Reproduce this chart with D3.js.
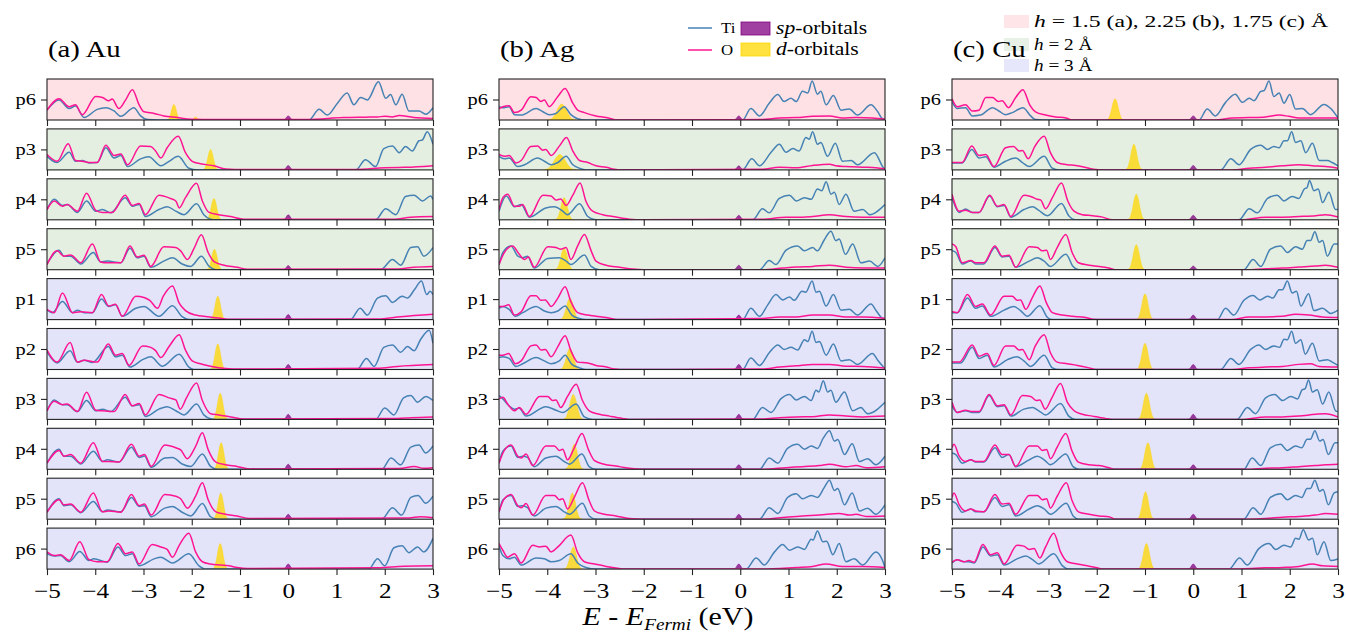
<!DOCTYPE html>
<html><head><meta charset="utf-8">
<script src="https://cdn.jsdelivr.net/npm/d3@7"></script>
<style>
body{margin:0;background:#fff}
svg{display:block}
text{font-family:"Liberation Serif","Times New Roman",serif;fill:#000}
</style>
</head><body>
<svg id="chart" width="1346" height="636"></svg>
<script>
// ---------------- data ----------------
const xTicks = [-5,-4,-3,-2,-1,0,1,2,3];
const rowLabels = ["p6","p3","p4","p5","p1","p2","p3","p4","p5","p6"];
const rowGroups = ["h1","h2","h2","h2","h3","h3","h3","h3","h3","h3"];
const groupLabels = ["h = 1.5 (a), 2.25 (b), 1.75 (c) Å","h = 2 Å","h = 3 Å"];
const columnTitles = ["(a) Au","(b) Ag","(c) Cu"];

// peak profile (relative position -> relative height), read from the d/sp peaks
const peakU = [-1,-0.7,-0.45,-0.2,0,0.2,0.45,0.7,1];
const peakShape = [0,0.08,0.38,0.83,1,0.83,0.38,0.08,0];

// d-orbital peaks per panel: [centre eV, height, half width]
const auD = [[[-2.37,3.8,0.15],[-1.92,0.75,0.1]],[[-1.61,5.0,0.17]],[[-1.54,5.2,0.17]],[[-1.53,5.0,0.17]],[[-1.46,5.7,0.17]],[[-1.46,6.25,0.17]],[[-1.41,6.4,0.17]],[[-1.39,6.5,0.17]],[[-1.40,6.4,0.17]],[[-1.41,6.25,0.17]]];
const agD = [[[-3.70,3.9,0.3]],[[-3.74,3.75,0.35]],[[-3.65,5.4,0.2]],[[-3.65,5.25,0.2]],[[-3.53,5.25,0.22]],[[-3.53,5.2,0.22]],[[-3.46,6.1,0.22]],[[-3.44,6.1,0.2]],[[-3.48,6.4,0.2]],[[-3.46,5.4,0.2]]];
const cuD = [[[-1.62,5.2,0.19]],[[-1.23,6.25,0.19]],[[-1.18,6.25,0.19]],[[-1.18,6.1,0.19]],[[-1.00,6.3,0.19]],[[-1.00,6.4,0.19]],[[-0.97,6.4,0.19]],[[-0.94,6.5,0.19]],[[-0.99,6.7,0.19]],[[-0.97,6.25,0.19]]];
// sp-orbital peaks: centre and heights
const spCentre = [0, -0.03, 0];
const spHalfWidth = 0.12;
const auSp = [1.0,1.1,1.25,1.0,1.25,1.25,1.25,1.25,1.2,1.25];
const agSp = [1.0,1.0,1.1,1.1,1.1,1.25,1.25,1.1,1.2,1.25];
const cuSp = [1.0,1.1,1.1,0.9,1.1,1.25,1.25,1.1,1.2,1.25];

// Ti and O projected DOS, [E, value] key points per panel
const auTi = [
[[-5,2.4],[-4.75,4.9],[-4.54,2.8],[-4.41,3.4],[-4.23,0.6],[-3.96,2.6],[-3.78,3.0],[-3.61,2.2],[-3.47,0.9],[-3.2,3.0],[-3.06,1.0],[-2.92,0.1],[-2.7,0],[0.43,0],[0.64,2.6],[0.81,1.2],[1.02,4.1],[1.22,6.6],[1.36,3.7],[1.5,5.5],[1.64,4.9],[1.87,9.3],[2.02,5.3],[2.12,6.2],[2.23,3.7],[2.36,6.3],[2.5,2.2],[2.71,2.2],[2.85,1.4],[3,3.0]],
[[-5,3.3],[-4.79,1.8],[-4.54,4.3],[-4.41,2.1],[-4.27,2.3],[-4.13,1.7],[-3.96,1.8],[-3.78,5.4],[-3.61,2.9],[-3.47,3.5],[-3.33,0.8],[-3.06,2.7],[-2.89,3.2],[-2.64,1.0],[-2.47,2.1],[-2.28,3.3],[-2.06,0.4],[-1.88,0],[1.4,0],[1.6,2.5],[1.81,0.8],[1.98,5.2],[2.16,5.8],[2.3,4.2],[2.43,5.7],[2.57,4.6],[2.71,7.1],[2.78,7.3],[2.88,9.3],[3,6.25]],
[[-5,2.5],[-4.85,5.0],[-4.68,3.5],[-4.58,3.75],[-4.37,1.8],[-4.18,4.6],[-3.99,2.1],[-3.85,2.5],[-3.68,1.7],[-3.38,5.4],[-3.23,3.3],[-3.09,3.75],[-2.96,0.8],[-2.68,2.5],[-2.51,3.2],[-2.33,2.1],[-2.16,1.25],[-1.9,3.9],[-1.75,1.25],[-1.61,0.15],[-1.5,0],[1.81,0],[2.02,2.7],[2.23,1.25],[2.43,5.7],[2.61,6.0],[2.78,4.6],[2.95,5.8],[3,5.0]],
[[-5,1.4],[-4.75,4.75],[-4.65,3.3],[-4.51,3.3],[-4.3,1.4],[-4.04,4.2],[-3.89,1.9],[-3.75,2.1],[-3.47,1.7],[-3.28,5.25],[-3.13,2.9],[-2.99,3.3],[-2.85,0.6],[-2.58,2.1],[-2.4,2.9],[-2.2,1.4],[-2.02,0.8],[-1.8,3.3],[-1.64,0.8],[-1.5,0],[1.92,0],[2.16,2.5],[2.33,1.1],[2.54,5.4],[2.68,5.6],[2.81,3.3],[3,5.4]],
[[-5,2.3],[-4.89,1.7],[-4.68,4.4],[-4.47,1.7],[-4.37,2.3],[-4.23,1.7],[-4.06,1.7],[-3.87,5.0],[-3.72,3.2],[-3.58,3.6],[-3.44,0.8],[-3.16,2.75],[-2.99,3.2],[-2.68,0.8],[-2.4,3.4],[-2.2,0.7],[-2.09,0.1],[-2.0,0],[1.29,0],[1.49,2.75],[1.64,1.1],[1.85,5.25],[2.02,5.8],[2.16,4.2],[2.36,5.7],[2.47,5.25],[2.61,7.2],[2.76,9.4],[2.87,6.1],[2.94,6.9],[3,6.1]],
[[-5,4.3],[-4.79,1.6],[-4.52,4.6],[-4.37,1.8],[-4.23,2.25],[-4.06,1.7],[-3.73,5.6],[-3.58,3.1],[-3.44,3.5],[-3.28,0.6],[-3.02,2.4],[-2.85,3.1],[-2.61,0.8],[-2.26,3.7],[-2.06,0.6],[-1.95,0],[1.43,0],[1.62,2.7],[1.78,0.75],[1.98,5.4],[2.16,6.0],[2.33,4.2],[2.47,5.6],[2.61,4.6],[2.74,7.25],[2.92,9.6],[3,6.4]],
[[-5,2.1],[-4.85,4.75],[-4.68,3.6],[-4.58,3.6],[-4.37,1.9],[-4.18,4.6],[-3.99,2.1],[-3.85,2.5],[-3.68,1.9],[-3.38,5.4],[-3.23,3.3],[-3.09,3.6],[-2.96,0.7],[-2.68,2.5],[-2.51,3.1],[-2.33,2.1],[-2.16,1.1],[-1.9,3.75],[-1.75,1.1],[-1.61,0.15],[-1.5,0],[1.81,0],[2.0,2.75],[2.19,1.1],[2.39,5.25],[2.54,5.8],[2.68,4.2],[2.85,5.6],[3,4.6]],
[[-5,1.5],[-4.75,4.9],[-4.65,3.2],[-4.51,3.2],[-4.3,1.3],[-4.04,4.4],[-3.85,1.9],[-3.75,2.3],[-3.51,1.75],[-3.25,5.4],[-3.09,2.9],[-2.98,3.25],[-2.84,0.5],[-2.56,2.75],[-2.4,2.9],[-2.2,1.3],[-2.02,0.7],[-1.78,3.75],[-1.61,0.7],[-1.47,0],[1.94,0],[2.13,2.75],[2.33,1.1],[2.54,5.4],[2.71,5.9],[2.85,4.0],[3,5.7]],
[[-5,1.7],[-4.75,5.0],[-4.65,3.3],[-4.51,3.5],[-4.3,1.6],[-4.04,4.3],[-3.85,1.8],[-3.75,2.25],[-3.47,1.8],[-3.25,5.3],[-3.09,3.1],[-2.98,3.3],[-2.84,0.6],[-2.56,2.7],[-2.4,3.1],[-2.2,1.7],[-2.02,0.8],[-1.78,3.8],[-1.61,0.6],[-1.47,0],[1.94,0],[2.16,2.8],[2.35,1.0],[2.54,5.3],[2.69,5.8],[2.85,3.9],[3,5.6]],
[[-5,3.75],[-4.85,3.2],[-4.72,3.3],[-4.54,1.8],[-4.32,4.3],[-4.13,2.1],[-4.03,2.5],[-3.75,1.7],[-3.53,5.4],[-3.37,3.3],[-3.23,3.75],[-3.09,0.8],[-2.78,2.5],[-2.64,2.9],[-2.4,1.5],[-2.06,3.75],[-1.85,0.8],[-1.71,0],[1.67,0],[1.85,2.5],[2.0,0.8],[2.19,5.2],[2.36,5.7],[2.5,4.0],[2.68,5.4],[2.81,4.2],[3,7.5]]
];
const auO = [
[[-5,2.4],[-4.75,5.2],[-4.54,3.25],[-4.41,3.7],[-4.27,1.3],[-3.99,5.75],[-3.85,5.5],[-3.72,4.7],[-3.65,5.1],[-3.51,2.8],[-3.37,4.9],[-3.23,7.4],[-3.09,3.7],[-2.99,2.0],[-2.78,1.6],[-2.58,1.0],[-2.3,0.6],[-2.02,0.2],[-1.5,0.1],[0.4,0.1],[1.14,0.6],[1.6,0.7],[1.85,0.75],[2.0,0.9],[2.15,0.75],[2.3,1.1],[2.6,0.6],[3,0.35]],
[[-5,3.75],[-4.79,2.1],[-4.56,6.4],[-4.41,2.3],[-4.27,2.1],[-4.13,1.8],[-3.96,1.8],[-3.78,6.0],[-3.61,3.5],[-3.47,3.9],[-3.33,1.25],[-3.06,5.8],[-2.85,5.7],[-2.75,4.6],[-2.64,2.9],[-2.51,5.4],[-2.28,8.2],[-2.13,4.2],[-1.99,2.1],[-1.82,1.5],[-1.54,1.0],[-1.3,0.25],[-0.92,0.1],[1.4,0.1],[2.0,0.5],[2.3,0.6],[2.54,0.65],[2.8,0.8],[3,1.0]],
[[-5,2.5],[-4.85,4.6],[-4.68,3.3],[-4.58,3.75],[-4.37,2.1],[-4.18,6.5],[-3.99,2.3],[-3.85,1.8],[-3.65,1.8],[-3.38,6.0],[-3.23,3.5],[-3.09,4.0],[-2.96,1.25],[-2.68,6.0],[-2.44,5.2],[-2.33,4.6],[-2.26,2.9],[-2.13,5.4],[-1.9,8.9],[-1.78,4.6],[-1.64,1.8],[-1.44,1.25],[-1.19,0.8],[-0.92,0.15],[2.2,0.15],[2.54,0.65],[3,0.8]],
[[-5,1.25],[-4.79,4.6],[-4.65,3.3],[-4.51,3.6],[-4.3,1.7],[-4.06,6.25],[-3.89,1.9],[-3.75,1.7],[-3.47,1.7],[-3.28,5.8],[-3.13,3.1],[-2.99,3.5],[-2.85,0.8],[-2.58,5.6],[-2.33,5.4],[-2.23,4.6],[-2.09,2.5],[-1.95,5.25],[-1.8,8.5],[-1.66,4.2],[-1.53,1.9],[-1.33,1.1],[-1.06,0.6],[-0.85,0.1],[2.25,0.15],[2.61,0.6],[3,0.8]],
[[-5,2.5],[-4.85,1.7],[-4.68,6.5],[-4.47,1.7],[-4.3,1.9],[-4.06,1.7],[-3.87,6.1],[-3.72,3.3],[-3.58,3.75],[-3.44,0.8],[-3.16,5.7],[-2.99,5.4],[-2.87,4.7],[-2.71,2.75],[-2.59,5.7],[-2.4,8.2],[-2.26,4.0],[-2.13,2.2],[-1.92,1.1],[-1.68,0.7],[-1.4,0.3],[-1.19,0.1],[1.85,0.15],[2.33,0.7],[3,1.3]],
[[-5,4.75],[-4.79,1.8],[-4.52,6.6],[-4.37,1.8],[-4.23,2.25],[-3.96,1.8],[-3.73,6.2],[-3.58,3.5],[-3.44,3.9],[-3.3,1.0],[-3.02,5.75],[-2.85,5.4],[-2.75,4.6],[-2.64,2.9],[-2.47,5.6],[-2.26,8.5],[-2.13,4.75],[-1.99,2.1],[-1.82,1.4],[-1.61,0.8],[-1.3,0.25],[-1.0,0.1],[1.85,0.3],[2.26,0.75],[3,1.2]],
[[-5,2.1],[-4.85,4.4],[-4.68,3.6],[-4.58,3.75],[-4.37,1.9],[-4.18,6.6],[-3.99,2.25],[-3.85,2.1],[-3.61,1.9],[-3.38,6.1],[-3.23,3.3],[-3.09,3.9],[-2.96,1.1],[-2.68,6.1],[-2.47,5.25],[-2.33,4.75],[-2.24,2.5],[-2.11,5.25],[-1.9,8.9],[-1.78,4.6],[-1.61,1.4],[-1.44,1.1],[-1.19,0.6],[-0.92,0.1],[2.26,0.2],[2.54,0.4],[3,0.6]],
[[-5,1.5],[-4.75,4.6],[-4.65,3.2],[-4.51,3.6],[-4.3,1.5],[-4.04,6.5],[-3.85,1.9],[-3.72,1.9],[-3.51,1.75],[-3.25,6.1],[-3.09,3.2],[-2.98,3.6],[-2.84,0.7],[-2.56,5.9],[-2.33,5.25],[-2.23,4.75],[-2.09,2.6],[-1.92,5.6],[-1.78,8.9],[-1.66,4.8],[-1.5,1.75],[-1.3,1.1],[-1.06,0.7],[-0.81,0.1],[2.3,0.2],[2.61,0.7],[2.81,0.25],[3,0.4]],
[[-5,1.7],[-4.75,4.75],[-4.65,3.5],[-4.51,3.7],[-4.3,1.7],[-4.04,6.4],[-3.85,1.8],[-3.72,2.0],[-3.47,1.7],[-3.25,6.0],[-3.09,3.3],[-2.98,3.7],[-2.84,1.0],[-2.56,6.0],[-2.33,5.6],[-2.23,5.0],[-2.09,2.7],[-1.92,5.6],[-1.78,8.9],[-1.66,4.75],[-1.5,1.8],[-1.3,1.2],[-1.06,0.8],[-0.81,0.15],[2.5,0.3],[2.74,0.6],[3,0.35]],
[[-5,4.2],[-4.85,3.3],[-4.72,3.5],[-4.54,2.1],[-4.32,6.7],[-4.13,2.3],[-3.96,1.8],[-3.75,1.8],[-3.53,6.25],[-3.37,3.75],[-3.23,4.2],[-3.09,1.25],[-2.82,6.0],[-2.64,5.4],[-2.51,4.8],[-2.4,2.9],[-2.26,5.8],[-2.06,8.75],[-1.92,4.2],[-1.78,1.8],[-1.61,1.25],[-1.4,1.0],[-1.23,0.8],[-1.06,0.4],[-0.85,0.15],[1.85,0.3],[2.4,0.7],[3,0.8]]
];
const agTi = [
[[-5,3.25],[-4.92,3.0],[-4.79,3.25],[-4.68,1.3],[-4.54,1.2],[-4.23,2.8],[-4.09,2.0],[-3.96,1.3],[-3.82,1.6],[-3.65,3.25],[-3.51,1.3],[-3.37,0.3],[-3.2,0],[0.05,0],[0.22,2.8],[0.4,1.0],[0.6,4.1],[0.78,6.2],[0.91,4.5],[1.05,5.3],[1.16,4.5],[1.29,7.0],[1.4,6.6],[1.49,9.5],[1.6,6.3],[1.67,7.0],[1.78,3.7],[1.93,6.0],[2.09,2.4],[2.26,2.7],[2.43,1.2],[2.71,3.7],[2.85,2.0],[2.95,0.3],[3,0.2]],
[[-5,3.3],[-4.89,2.7],[-4.79,2.9],[-4.61,0.8],[-4.47,1.25],[-4.2,2.9],[-4.06,2.1],[-3.92,1.25],[-3.78,1.8],[-3.61,3.3],[-3.47,1.25],[-3.33,0.4],[-3.2,0],[0.05,0],[0.24,2.7],[0.4,1.0],[0.64,4.3],[0.81,6.25],[0.95,4.3],[1.09,5.2],[1.22,4.6],[1.36,7.9],[1.43,7.5],[1.5,9.3],[1.6,6.25],[1.67,6.7],[1.81,3.3],[1.97,6.5],[2.12,2.1],[2.3,2.3],[2.43,1.25],[2.78,4.2],[2.95,0.8],[3,0]],
[[-5,2.1],[-4.85,5.8],[-4.68,3.2],[-4.54,3.75],[-4.37,0.65],[-4.03,2.9],[-3.85,3.2],[-3.68,2.1],[-3.58,1.25],[-3.33,3.9],[-3.16,0.8],[-2.99,0],[0.26,0],[0.46,2.7],[0.6,1.7],[0.81,5.2],[1.02,6.0],[1.16,4.6],[1.33,5.4],[1.47,5.0],[1.6,7.5],[1.69,7.1],[1.78,9.3],[1.88,6.25],[1.95,6.7],[2.05,3.75],[2.19,6.25],[2.36,2.1],[2.54,2.5],[2.68,1.25],[3,3.75]],
[[-5,1.1],[-4.92,4.2],[-4.75,5.8],[-4.61,3.3],[-4.51,2.9],[-4.41,3.3],[-4.27,0.4],[-3.99,2.75],[-3.75,2.9],[-3.61,2.1],[-3.51,1.25],[-3.23,3.6],[-3.09,0.8],[-2.92,0],[0.4,0],[0.6,2.25],[0.74,1.25],[0.95,4.75],[1.19,5.8],[1.33,4.6],[1.5,5.4],[1.6,4.6],[1.74,7.25],[1.88,9.4],[1.98,7.1],[2.05,7.5],[2.18,3.75],[2.33,6.25],[2.5,1.7],[2.68,2.1],[2.85,0.8],[3,2.9]],
[[-5,2.75],[-4.92,3.2],[-4.79,2.5],[-4.66,0.8],[-4.51,1.7],[-4.23,3.2],[-4.06,2.1],[-3.92,1.7],[-3.78,2.1],[-3.63,3.3],[-3.49,1.1],[-3.33,0.25],[-3.2,0],[0.05,0],[0.22,2.75],[0.4,0.8],[0.57,3.6],[0.74,6.1],[0.88,4.8],[1.02,5.5],[1.12,4.7],[1.28,6.9],[1.36,6.7],[1.49,9.4],[1.57,6.7],[1.64,6.9],[1.78,3.3],[1.93,6.1],[2.09,2.3],[2.26,2.5],[2.43,1.1],[2.71,3.8],[2.81,2.3],[2.95,0.25],[3,0.1]],
[[-5,2.9],[-4.92,3.1],[-4.79,2.7],[-4.65,0.75],[-4.51,1.4],[-4.23,2.9],[-4.06,2.1],[-3.92,1.4],[-3.75,2.1],[-3.63,3.5],[-3.49,1.25],[-3.33,0.4],[-3.2,0],[0.05,0],[0.22,2.8],[0.4,1.0],[0.6,4.1],[0.78,6.0],[0.91,4.9],[1.05,5.4],[1.19,4.75],[1.33,7.25],[1.4,6.8],[1.49,9.3],[1.57,6.6],[1.64,6.8],[1.78,3.5],[1.93,6.25],[2.09,2.1],[2.26,2.4],[2.43,1.25],[2.74,3.9],[2.85,2.25],[3,0.15]],
[[-5,5.8],[-4.92,5.0],[-4.79,3.3],[-4.68,2.5],[-4.58,2.75],[-4.44,0.8],[-4.03,3.1],[-3.82,2.25],[-3.68,1.7],[-3.4,3.75],[-3.23,0.6],[-3.06,0],[0.26,0],[0.46,2.9],[0.64,1.7],[0.84,5.0],[1.02,6.1],[1.16,4.75],[1.33,5.6],[1.47,4.6],[1.57,7.1],[1.63,6.7],[1.72,9.4],[1.81,6.7],[1.88,7.1],[1.98,4.2],[2.16,6.7],[2.33,2.1],[2.5,2.9],[2.64,1.4],[3,4.2]],
[[-5,1.5],[-4.92,4.4],[-4.75,5.7],[-4.61,2.9],[-4.51,3.2],[-4.41,2.9],[-4.27,0.65],[-4.03,2.75],[-3.82,3.2],[-3.65,1.9],[-3.54,1.25],[-3.28,3.75],[-3.13,0.65],[-2.99,0],[0.4,0],[0.6,2.75],[0.78,1.5],[0.98,5.1],[1.19,6.1],[1.33,4.9],[1.47,5.7],[1.6,5.1],[1.72,7.6],[1.85,9.4],[1.95,6.9],[2.02,7.25],[2.16,3.6],[2.32,6.25],[2.47,1.9],[2.64,2.6],[2.81,1.1],[3,3.2]],
[[-5,1.7],[-4.92,4.7],[-4.75,5.8],[-4.61,3.1],[-4.51,3.3],[-4.41,2.8],[-4.27,0.8],[-4.03,2.7],[-3.82,3.1],[-3.65,1.8],[-3.54,1.2],[-3.27,3.9],[-3.13,0.8],[-2.99,0],[0.4,0],[0.6,2.8],[0.78,1.4],[0.98,5.3],[1.16,6.2],[1.29,5.0],[1.47,5.8],[1.6,5.3],[1.74,7.7],[1.85,9.5],[1.95,7.0],[2.02,7.5],[2.16,3.5],[2.32,6.4],[2.47,2.0],[2.64,2.7],[2.81,1.2],[3,3.5]],
[[-5,5.7],[-4.92,3.3],[-4.79,2.5],[-4.68,2.9],[-4.54,1.0],[-4.23,2.7],[-4.06,2.5],[-3.92,1.8],[-3.75,2.1],[-3.51,3.75],[-3.37,1.5],[-3.2,0.4],[-2.99,0],[0.12,0],[0.33,2.7],[0.5,1.0],[0.71,4.2],[0.88,6.0],[1.02,4.6],[1.19,5.4],[1.33,4.8],[1.47,7.3],[1.51,7.1],[1.6,9.3],[1.71,6.7],[1.79,6.8],[1.92,3.5],[2.05,6.25],[2.19,1.8],[2.36,2.5],[2.54,1.0],[2.81,4.2],[2.95,2.1],[3,0.4]]
];
const agO = [
[[-5,2.8],[-4.92,3.25],[-4.79,3.5],[-4.68,1.8],[-4.54,2.4],[-4.34,5.7],[-4.23,5.5],[-4.13,4.5],[-4.06,4.9],[-3.96,3.25],[-3.78,5.75],[-3.63,7.7],[-3.47,4.1],[-3.37,2.4],[-3.23,1.8],[-2.99,1.0],[-2.78,0.6],[-2.64,0.2],[-2.58,0],[0.46,0.1],[0.81,0.5],[1.16,0.6],[1.5,0.9],[1.85,1.0],[2.12,0.5],[2.4,0.6],[2.74,0.5],[3,0.2]],
[[-5,3.75],[-4.89,3.3],[-4.79,3.5],[-4.65,1.7],[-4.54,2.3],[-4.34,5.7],[-4.2,5.8],[-4.09,4.8],[-4.03,5.0],[-3.92,3.5],[-3.75,5.8],[-3.6,7.9],[-3.47,4.6],[-3.33,2.3],[-3.16,1.8],[-2.99,1.0],[-2.78,0.65],[-2.61,0.15],[-2.5,0],[0.46,0.15],[0.81,0.65],[1.16,0.55],[1.5,1.1],[1.85,1.4],[1.98,1.0],[2.19,0.8],[2.54,0.65],[2.81,0.55],[3,0.25]],
[[-5,2.5],[-4.92,5.4],[-4.82,6.25],[-4.68,3.3],[-4.58,3.3],[-4.51,3.75],[-4.37,0.8],[-4.09,6.0],[-3.92,5.8],[-3.82,4.8],[-3.72,5.1],[-3.61,3.5],[-3.47,6.0],[-3.32,9.0],[-3.2,4.6],[-3.06,2.1],[-2.85,1.25],[-2.64,0.8],[-2.3,0.15],[-2.0,0],[0.46,0.15],[0.95,0.65],[1.29,0.65],[1.5,0.8],[1.85,1.25],[2.19,0.8],[2.54,0.65],[3,0.65]],
[[-5,1.25],[-4.89,4.2],[-4.72,5.8],[-4.58,3.75],[-4.47,2.5],[-4.39,3.1],[-4.27,0.6],[-3.99,5.6],[-3.82,5.4],[-3.72,5.0],[-3.61,5.4],[-3.51,2.5],[-3.37,5.8],[-3.23,8.6],[-3.09,4.6],[-2.99,2.1],[-2.78,1.1],[-2.58,0.7],[-2.23,0.15],[-2.0,0],[0.46,0],[0.88,0.4],[1.16,0.65],[1.5,0.8],[1.85,1.1],[2.19,0.6],[2.54,0.4],[3,0.4]],
[[-5,3.2],[-4.92,3.2],[-4.8,3.6],[-4.68,1.1],[-4.54,1.9],[-4.34,5.8],[-4.23,5.8],[-4.13,4.7],[-4.04,4.8],[-3.92,3.2],[-3.78,5.25],[-3.63,8.0],[-3.51,4.4],[-3.37,1.7],[-3.16,1.1],[-2.99,0.8],[-2.78,0.5],[-2.61,0.1],[-2.5,0],[0.46,0.25],[0.81,0.65],[1.16,0.65],[1.5,1.1],[1.85,1.1],[2.19,0.65],[2.54,0.65],[3,0.3]],
[[-5,3.5],[-4.92,3.5],[-4.8,3.9],[-4.66,1.4],[-4.54,2.1],[-4.34,5.75],[-4.23,6.0],[-4.13,4.75],[-4.04,4.9],[-3.92,3.1],[-3.78,5.6],[-3.63,8.25],[-3.51,4.6],[-3.37,1.8],[-3.16,1.6],[-2.99,1.0],[-2.78,0.6],[-2.61,0.15],[-2.5,0],[0.46,0.1],[0.81,0.6],[1.16,0.9],[1.5,1.25],[1.85,1.25],[2.19,0.8],[2.54,0.75],[3,0.35]],
[[-5,5.0],[-4.92,5.4],[-4.82,3.75],[-4.68,2.1],[-4.58,2.9],[-4.44,1.25],[-4.16,5.6],[-3.99,5.6],[-3.89,4.6],[-3.82,4.75],[-3.72,2.9],[-3.58,5.6],[-3.4,8.6],[-3.27,4.6],[-3.13,2.1],[-2.92,1.25],[-2.71,0.8],[-2.44,0.25],[-2.3,0],[0.46,0.1],[0.81,0.4],[1.16,0.6],[1.5,0.65],[1.85,1.1],[2.19,0.8],[2.54,0.6],[3,0.8]],
[[-5,1.5],[-4.89,4.6],[-4.75,5.9],[-4.61,3.2],[-4.54,2.75],[-4.44,3.75],[-4.3,0.9],[-4.03,5.7],[-3.85,5.7],[-3.75,4.6],[-3.68,4.9],[-3.58,2.3],[-3.44,5.25],[-3.28,8.75],[-3.14,4.6],[-3.02,2.1],[-2.82,1.25],[-2.58,0.8],[-2.3,0.25],[-2.0,0],[0.46,0],[0.95,0.4],[1.29,0.65],[1.64,0.9],[1.85,1.25],[2.19,0.65],[2.4,0.9],[2.61,0.4],[3,0.65]],
[[-5,1.8],[-4.89,5.0],[-4.75,6.0],[-4.61,3.3],[-4.54,2.8],[-4.44,3.8],[-4.3,1.0],[-4.03,5.8],[-3.85,5.8],[-3.75,4.75],[-3.68,5.0],[-3.58,2.5],[-3.44,5.3],[-3.27,8.9],[-3.13,4.5],[-3.02,2.0],[-2.82,1.2],[-2.58,0.8],[-2.3,0.15],[-2.0,0],[0.46,0],[0.95,0.5],[1.29,0.8],[1.64,1.0],[2.05,1.4],[2.26,1.0],[2.4,1.2],[2.61,0.65],[3,0.8]],
[[-5,6.25],[-4.92,4.6],[-4.82,2.9],[-4.68,3.75],[-4.54,1.5],[-4.3,5.8],[-4.16,5.4],[-4.03,5.6],[-3.92,4.2],[-3.78,5.4],[-3.51,8.3],[-3.37,4.0],[-3.23,1.8],[-3.02,1.25],[-2.78,0.65],[-2.51,0.15],[-2.4,0],[0.46,0],[1.16,0.4],[1.5,0.65],[1.78,1.25],[2.12,0.65],[2.54,0.65],[3,0.4]]
];
const cuTi = [
[[-5,4.5],[-4.89,2.8],[-4.72,3.0],[-4.58,1.0],[-4.41,1.2],[-4.16,3.0],[-4.03,2.2],[-3.89,1.3],[-3.75,1.8],[-3.53,3.0],[-3.37,1.0],[-3.27,0.1],[-3.1,0],[0.12,0],[0.29,2.7],[0.46,1.0],[0.67,4.3],[0.87,6.3],[1.02,4.3],[1.16,5.3],[1.26,4.7],[1.4,7.0],[1.47,7.2],[1.57,9.5],[1.67,5.75],[1.78,6.6],[1.88,4.1],[2.0,6.2],[2.12,2.7],[2.26,2.8],[2.43,1.3],[2.71,3.8],[2.85,2.8],[3,0.5]],
[[-5,1.7],[-4.79,1.7],[-4.59,5.0],[-4.44,2.9],[-4.3,3.2],[-4.13,0.65],[-3.89,2.1],[-3.68,2.9],[-3.54,1.8],[-3.4,0.8],[-3.09,3.3],[-2.92,0.4],[-2.78,0],[0.57,0],[0.78,2.7],[0.95,1.25],[1.19,5.0],[1.4,6.0],[1.54,5.0],[1.67,5.7],[1.78,5.4],[1.88,7.1],[1.95,7.1],[2.04,9.3],[2.12,6.7],[2.23,7.1],[2.33,4.2],[2.47,6.5],[2.61,2.3],[2.78,2.3],[2.88,1.8],[3,1.0]],
[[-5,5.4],[-4.85,1.8],[-4.72,2.65],[-4.58,1.8],[-4.44,1.8],[-4.22,5.8],[-4.06,3.2],[-3.92,3.5],[-3.78,0.65],[-3.51,2.5],[-3.33,3.2],[-3.2,2.3],[-3.02,1.0],[-2.73,4.0],[-2.58,1.0],[-2.44,0],[0.95,0],[1.16,2.7],[1.33,1.7],[1.54,5.2],[1.74,6.0],[1.88,4.6],[2.05,5.7],[2.19,5.2],[2.3,7.5],[2.36,7.9],[2.41,9.6],[2.5,7.1],[2.59,7.5],[2.68,4.2],[2.81,6.7],[2.95,2.5],[3,2.5]],
[[-5,4.6],[-4.92,4.2],[-4.79,1.4],[-4.61,2.1],[-4.51,1.4],[-4.34,1.4],[-4.11,5.4],[-3.96,3.1],[-3.82,3.3],[-3.68,0.6],[-3.4,2.1],[-3.23,2.9],[-3.09,2.1],[-2.96,0.8],[-2.64,3.75],[-2.49,0.8],[-2.37,0],[1.05,0],[1.24,2.5],[1.4,0.8],[1.6,5.0],[1.81,5.8],[1.95,4.2],[2.12,5.6],[2.26,5.0],[2.36,7.1],[2.43,7.1],[2.52,9.25],[2.61,6.7],[2.68,7.1],[2.78,3.3],[2.92,6.25],[3,6.25]],
[[-5,1.7],[-4.89,1.7],[-4.68,5.25],[-4.51,2.75],[-4.37,3.3],[-4.2,0.8],[-3.92,2.3],[-3.72,3.2],[-3.58,2.2],[-3.44,0.8],[-3.18,3.4],[-3.02,0.5],[-2.92,0],[0.5,0],[0.67,2.75],[0.84,1.1],[1.05,4.7],[1.24,5.9],[1.38,4.8],[1.54,5.7],[1.65,5.25],[1.78,7.3],[1.85,7.3],[1.95,9.4],[2.05,6.5],[2.14,6.9],[2.23,3.3],[2.39,6.3],[2.5,2.2],[2.68,2.75],[2.85,1.5],[3,2.3]],
[[-5,1.6],[-4.82,1.6],[-4.58,5.4],[-4.44,2.7],[-4.27,3.5],[-4.13,0.6],[-3.85,2.4],[-3.65,3.1],[-3.51,2.1],[-3.37,0.75],[-3.09,3.5],[-2.92,0.4],[-2.78,0],[0.57,0],[0.78,2.7],[0.95,1.25],[1.19,4.9],[1.36,6.0],[1.5,4.9],[1.67,5.75],[1.79,5.4],[1.88,7.4],[1.95,7.25],[2.04,9.3],[2.12,6.4],[2.23,7.25],[2.32,3.75],[2.47,6.4],[2.61,2.1],[2.78,2.4],[2.88,1.8],[3,1.0]],
[[-5,3.3],[-4.89,1.7],[-4.72,2.1],[-4.58,1.7],[-4.44,1.7],[-4.23,5.8],[-4.06,3.1],[-3.92,3.3],[-3.78,0.8],[-3.51,2.5],[-3.33,2.9],[-3.2,2.1],[-3.06,1.1],[-2.75,3.9],[-2.58,0.8],[-2.44,0],[0.91,0],[1.12,2.9],[1.29,1.4],[1.5,5.25],[1.69,6.1],[1.85,4.6],[2.02,5.6],[2.16,5.0],[2.26,7.25],[2.32,7.5],[2.39,9.6],[2.47,6.7],[2.57,7.25],[2.68,3.75],[2.81,6.7],[2.95,2.1],[3,1.9]],
[[-5,4.0],[-4.92,3.6],[-4.79,1.5],[-4.61,2.3],[-4.51,1.75],[-4.34,1.75],[-4.11,5.25],[-3.96,2.9],[-3.82,3.6],[-3.68,0.65],[-3.4,2.3],[-3.23,3.2],[-3.09,2.3],[-2.96,1.1],[-2.64,3.75],[-2.49,0.65],[-2.37,0],[1.05,0],[1.22,2.75],[1.4,0.9],[1.6,5.25],[1.81,6.1],[1.95,4.6],[2.12,5.7],[2.25,5.25],[2.36,7.3],[2.43,7.3],[2.52,9.4],[2.62,6.9],[2.69,7.25],[2.8,3.6],[2.94,6.5],[3,6.5]],
[[-5,4.3],[-4.92,3.9],[-4.79,1.7],[-4.61,2.5],[-4.51,1.8],[-4.34,1.8],[-4.11,5.3],[-3.96,3.1],[-3.82,3.5],[-3.68,0.8],[-3.4,2.5],[-3.23,3.3],[-3.09,2.5],[-2.96,1.2],[-2.63,3.9],[-2.49,0.8],[-2.37,0],[1.05,0],[1.24,2.8],[1.4,1.2],[1.6,5.3],[1.81,6.2],[1.95,4.75],[2.12,5.8],[2.25,5.3],[2.36,7.5],[2.43,7.5],[2.52,9.5],[2.62,6.8],[2.69,7.25],[2.8,3.5],[2.92,6.4],[3,6.7]],
[[-5,1.5],[-4.89,2.3],[-4.75,1.8],[-4.65,1.8],[-4.54,1.5],[-4.36,5.4],[-4.2,3.2],[-4.06,3.5],[-3.92,1.0],[-3.65,2.5],[-3.47,3.2],[-3.33,2.3],[-3.2,1.25],[-2.89,3.75],[-2.71,0.8],[-2.58,0],[0.74,0],[0.96,2.7],[1.12,1.0],[1.36,5.0],[1.57,6.25],[1.71,4.8],[1.88,5.8],[2.02,5.4],[2.12,7.5],[2.19,7.3],[2.28,9.6],[2.39,7.1],[2.47,7.5],[2.57,3.5],[2.71,6.7],[2.85,2.1],[3,2.5]]
];
const cuO = [
[[-5,5.2],[-4.89,3.25],[-4.72,3.7],[-4.58,2.2],[-4.44,2.4],[-4.3,5.5],[-4.16,5.5],[-4.04,4.5],[-3.96,4.7],[-3.83,3.0],[-3.68,5.5],[-3.53,7.4],[-3.39,3.7],[-3.27,2.0],[-3.06,1.2],[-2.85,0.75],[-2.64,0.5],[-2.51,0],[0.46,0],[0.81,0.5],[1.16,0.6],[1.5,0.75],[1.78,1.2],[1.98,0.9],[2.19,0.5],[2.54,0.5],[3,0.5]],
[[-5,1.8],[-4.79,1.8],[-4.59,5.8],[-4.44,3.5],[-4.3,3.75],[-4.13,0.8],[-3.89,5.4],[-3.72,5.7],[-3.61,4.6],[-3.54,4.75],[-3.42,2.7],[-3.28,5.8],[-3.09,8.2],[-2.96,4.2],[-2.82,1.8],[-2.61,1.25],[-2.44,1.1],[-2.16,0.4],[-2.02,0.1],[-1.9,0],[0.8,0],[1.16,0.4],[1.5,0.65],[1.85,1.0],[2.19,1.25],[2.47,1.0],[2.74,0.8],[3,0.4]],
[[-5,6.25],[-4.85,2.1],[-4.72,2.3],[-4.58,1.8],[-4.44,1.8],[-4.22,6.0],[-4.06,3.3],[-3.92,3.75],[-3.78,0.8],[-3.51,6.0],[-3.37,5.7],[-3.23,5.0],[-3.16,4.8],[-3.06,2.7],[-2.92,5.4],[-2.73,9.0],[-2.6,4.6],[-2.47,2.1],[-2.3,1.25],[-2.09,1.0],[-1.88,0.65],[-1.68,0],[1.0,0],[1.5,0.65],[1.85,0.65],[2.19,0.8],[2.54,1.0],[2.74,1.25],[3,0.65]],
[[-5,6.25],[-4.92,5.6],[-4.79,1.7],[-4.61,2.25],[-4.51,1.7],[-4.34,1.7],[-4.11,5.8],[-3.96,3.3],[-3.82,3.5],[-3.68,0.6],[-3.4,5.6],[-3.23,5.4],[-3.13,4.6],[-3.04,4.75],[-2.96,2.5],[-2.82,5.4],[-2.64,8.6],[-2.51,4.2],[-2.38,1.7],[-2.16,1.1],[-1.95,0.8],[-1.75,0.4],[-1.61,0],[1.09,0],[1.5,0.25],[1.85,0.4],[2.19,0.65],[2.54,0.9],[2.74,1.1],[3,0.6]],
[[-5,1.9],[-4.89,1.7],[-4.68,6.1],[-4.51,3.2],[-4.37,3.8],[-4.2,1.1],[-3.92,5.7],[-3.75,5.7],[-3.65,4.7],[-3.58,4.8],[-3.47,2.5],[-3.33,5.5],[-3.18,8.2],[-3.04,4.0],[-2.92,1.7],[-2.71,1.1],[-2.51,0.8],[-2.23,0.5],[-2.09,0.1],[-1.9,0],[0.8,0],[1.16,0.65],[1.5,0.65],[1.85,0.8],[2.12,1.3],[2.4,1.1],[2.68,0.65],[3,0.5]],
[[-5,1.8],[-4.85,1.8],[-4.58,6.0],[-4.44,3.25],[-4.27,3.9],[-4.13,1.0],[-3.89,5.75],[-3.72,5.75],[-3.61,4.75],[-3.54,4.9],[-3.4,2.4],[-3.28,5.6],[-3.09,8.5],[-2.96,4.1],[-2.82,1.8],[-2.61,1.4],[-2.4,1.0],[-2.16,0.4],[-2.02,0],[0.8,0],[1.16,0.4],[1.5,0.6],[1.85,0.75],[2.19,1.25],[2.43,1.4],[2.61,0.75],[3,0.6]],
[[-5,4.2],[-4.89,1.7],[-4.72,2.25],[-4.58,1.9],[-4.44,1.9],[-4.23,6.1],[-4.06,3.3],[-3.92,3.6],[-3.78,1.1],[-3.54,5.8],[-3.37,5.6],[-3.25,4.6],[-3.18,4.75],[-3.07,2.5],[-2.93,5.25],[-2.75,8.75],[-2.61,4.2],[-2.47,2.1],[-2.3,1.25],[-2.09,0.8],[-1.82,0.25],[-1.68,0],[1.0,0],[1.5,0.6],[1.85,0.6],[2.19,0.8],[2.54,1.25],[2.74,1.4],[3,0.6]],
[[-5,5.25],[-4.96,6.1],[-4.85,3.2],[-4.72,1.9],[-4.61,2.3],[-4.51,1.9],[-4.34,1.9],[-4.11,5.9],[-3.96,3.6],[-3.82,3.6],[-3.68,0.7],[-3.4,5.7],[-3.23,5.7],[-3.13,4.6],[-3.04,4.8],[-2.96,2.6],[-2.82,5.4],[-2.64,8.75],[-2.51,4.4],[-2.38,1.75],[-2.16,1.1],[-1.95,0.9],[-1.75,0.4],[-1.61,0],[1.09,0],[1.5,0.25],[1.85,0.4],[2.19,0.65],[2.54,0.9],[2.74,1.1],[3,1.25]],
[[-5,5.3],[-4.96,6.4],[-4.85,3.5],[-4.72,2.0],[-4.61,2.5],[-4.51,2.0],[-4.34,1.8],[-4.11,6.0],[-3.96,3.7],[-3.82,3.9],[-3.68,1.2],[-3.4,5.8],[-3.23,5.8],[-3.13,4.75],[-3.04,5.0],[-2.96,2.7],[-2.82,5.6],[-2.63,8.9],[-2.51,4.5],[-2.38,1.8],[-2.16,1.2],[-1.95,0.8],[-1.75,0.6],[-1.61,0],[1.09,0],[1.5,0.15],[1.85,0.5],[2.19,0.65],[2.54,1.0],[2.74,1.4],[3,1.2]],
[[-5,1.7],[-4.89,2.3],[-4.75,1.8],[-4.65,2.1],[-4.54,1.7],[-4.36,6.0],[-4.2,3.5],[-4.06,4.0],[-3.92,1.25],[-3.65,5.8],[-3.51,5.6],[-3.4,4.8],[-3.3,5.0],[-3.18,2.7],[-3.06,5.4],[-2.89,8.75],[-2.75,4.2],[-2.61,1.8],[-2.4,1.25],[-2.2,0.8],[-2.02,0.4],[-1.85,0],[0.74,0],[1.5,0.3],[1.85,0.4],[2.19,0.65],[2.47,1.25],[2.68,0.8],[3,0.65]]
];

// ---------------- layout & style ----------------
const colX = [47, 499, 952];
const panelW = 386, panelH = 41, rowTop0 = 79, rowPitch = 49.9;
const SX = 1.2; // horizontal stretch of the lettering in the reference image
const bgColors = {h1:"#fde1e4", h2:"#e4efe1", h3:"#e3e3fa"};
const tiColor = "#4682b4", oColor = "#ff1493";
const spColor = "#800080", dColor = "#ffd700";

const svg = d3.select("#chart");
const x = d3.scaleLinear().domain([-5,3]).range([0,panelW]);
const y = d3.scaleLinear().domain([0,10]).range([panelH,0]);
const line = d3.line().x(d=>x(d[0])).y(d=>y(d[1])).curve(d3.curveMonotoneX);
const area = d3.area().x(d=>x(d[0])).y0(y(0)).y1(d=>y(d[1])).curve(d3.curveMonotoneX);

function peakPoints(c, h, hw){ return peakU.map((u,i)=>[c+u*hw, h*peakShape[i]]); }
function stretch(sel){
  sel.each(function(){
    const t = d3.select(this);
    const tx = +t.attr("x") || 0, ty = +t.attr("y") || 0;
    t.attr("transform", `translate(${tx},${ty}) scale(${SX},1)`).attr("x", 0).attr("y", 0);
  });
  return sel;
}

const columns = [
  {title:columnTitles[0], ti:auTi, o:auO, d:auD, sp:auSp, spc:spCentre[0]},
  {title:columnTitles[1], ti:agTi, o:agO, d:agD, sp:agSp, spc:spCentre[1]},
  {title:columnTitles[2], ti:cuTi, o:cuO, d:cuD, sp:cuSp, spc:spCentre[2]}
];

const defs = svg.append("defs");
defs.append("clipPath").attr("id","pclip").append("rect")
  .attr("x",0).attr("y",0).attr("width",panelW).attr("height",panelH);

// legend 1
const lg = svg.append("g");
[["Ti",tiColor,28],["O",oColor,50]].forEach(([t,c,yy])=>{
  lg.append("line").attr("x1",688).attr("x2",712).attr("y1",yy).attr("y2",yy)
    .attr("stroke",c).attr("stroke-width",1.5);
  stretch(lg.append("text").attr("x",721).attr("y",yy+5).attr("font-size",14).text(t));
});
[[spColor,"sp",22],[dColor,"d",43]].forEach(([c,t,yy])=>{
  lg.append("rect").attr("x",741).attr("y",yy).attr("width",29).attr("height",13)
    .attr("fill",c).attr("fill-opacity",0.75).attr("stroke",c).attr("stroke-opacity",0.8);
  const tx = lg.append("text").attr("x",776).attr("y",yy+11.5).attr("font-size",18);
  tx.append("tspan").attr("font-style","italic").text(t);
  tx.append("tspan").text("-orbitals");
  stretch(tx);
});
// legend 2
groupLabels.forEach((t,i)=>{
  const yy = [15,38,59][i];
  lg.append("rect").attr("x",1004).attr("y",yy).attr("width",25).attr("height",13)
    .attr("fill",bgColors[["h1","h2","h3"][i]]).attr("fill-opacity",0.85);
  const tx = lg.append("text").attr("x",1034).attr("y",yy+11.5).attr("font-size",16);
  tx.append("tspan").attr("font-style","italic").text("h");
  tx.append("tspan").text(t.slice(1));
  if (i === 0) tx.attr("textLength", (1328-1034)/SX).attr("lengthAdjust","spacingAndGlyphs");
  stretch(tx);
});

columns.forEach((col, ci) => {
  const cx = colX[ci];
  rowLabels.forEach((lab, ri) => {
    const top = rowTop0 + ri*rowPitch;
    const g = svg.append("g").attr("transform", `translate(${cx},${top})`);
    g.append("rect").attr("width",panelW).attr("height",panelH)
      .attr("fill", bgColors[rowGroups[ri]]);
    const pg = g.append("g").attr("clip-path","url(#pclip)");
    col.d[ri].forEach(p => {
      pg.append("path").datum(peakPoints(p[0],p[1],p[2])).attr("d", area)
        .attr("fill", dColor).attr("fill-opacity", 0.75)
        .attr("stroke", dColor).attr("stroke-opacity",0.75).attr("stroke-width",0.6);
    });
    pg.append("path").datum(peakPoints(col.spc, col.sp[ri], spHalfWidth)).attr("d", area)
      .attr("fill", spColor).attr("fill-opacity", 0.75)
      .attr("stroke", spColor).attr("stroke-opacity",0.75).attr("stroke-width",0.6);
    pg.append("path").datum(col.ti[ri]).attr("d", line)
      .attr("fill","none").attr("stroke", tiColor).attr("stroke-width",1.5);
    pg.append("path").datum(col.o[ri]).attr("d", line)
      .attr("fill","none").attr("stroke", oColor).attr("stroke-width",1.5);
    g.append("rect").attr("width",panelW).attr("height",panelH)
      .attr("fill","none").attr("stroke","#222").attr("stroke-width",1.1);
    const last = ri === rowLabels.length-1;
    const xa = g.append("g").attr("transform",`translate(0,${panelH})`)
      .call(d3.axisBottom(x).tickValues(xTicks).tickSize(6).tickPadding(8)
        .tickFormat(last ? d3.format("d") : ""));
    xa.select(".domain").remove();
    xa.selectAll("line").attr("stroke","#222").attr("stroke-width",1.1);
    stretch(xa.selectAll("text").attr("font-size",21).attr("font-family","Liberation Serif").attr("fill","#000"));
    const ya = g.append("g").call(d3.axisLeft(y).tickValues([5]).tickSize(6).tickPadding(5)
      .tickFormat(() => lab));
    ya.select(".domain").remove();
    ya.selectAll("line").attr("stroke","#222").attr("stroke-width",1.1);
    stretch(ya.selectAll("text").attr("font-size",17).attr("font-family","Liberation Serif").attr("fill","#000"));
  });
  // column title, drawn on top
  stretch(svg.append("text").attr("x", cx+1).attr("y", 57)
    .attr("font-size", 24).text(col.title));
});

// x label
const xl = svg.append("text").attr("x",668).attr("y",625).attr("text-anchor","middle").attr("font-size",25);
xl.append("tspan").attr("font-style","italic").text("E");
xl.append("tspan").text(" - ");
xl.append("tspan").attr("font-style","italic").text("E");
xl.append("tspan").attr("font-style","italic").attr("font-size",16).attr("dy",5).text("Fermi");
xl.append("tspan").attr("dy",-5).text(" (eV)");
stretch(xl);
</script>
</body></html>
